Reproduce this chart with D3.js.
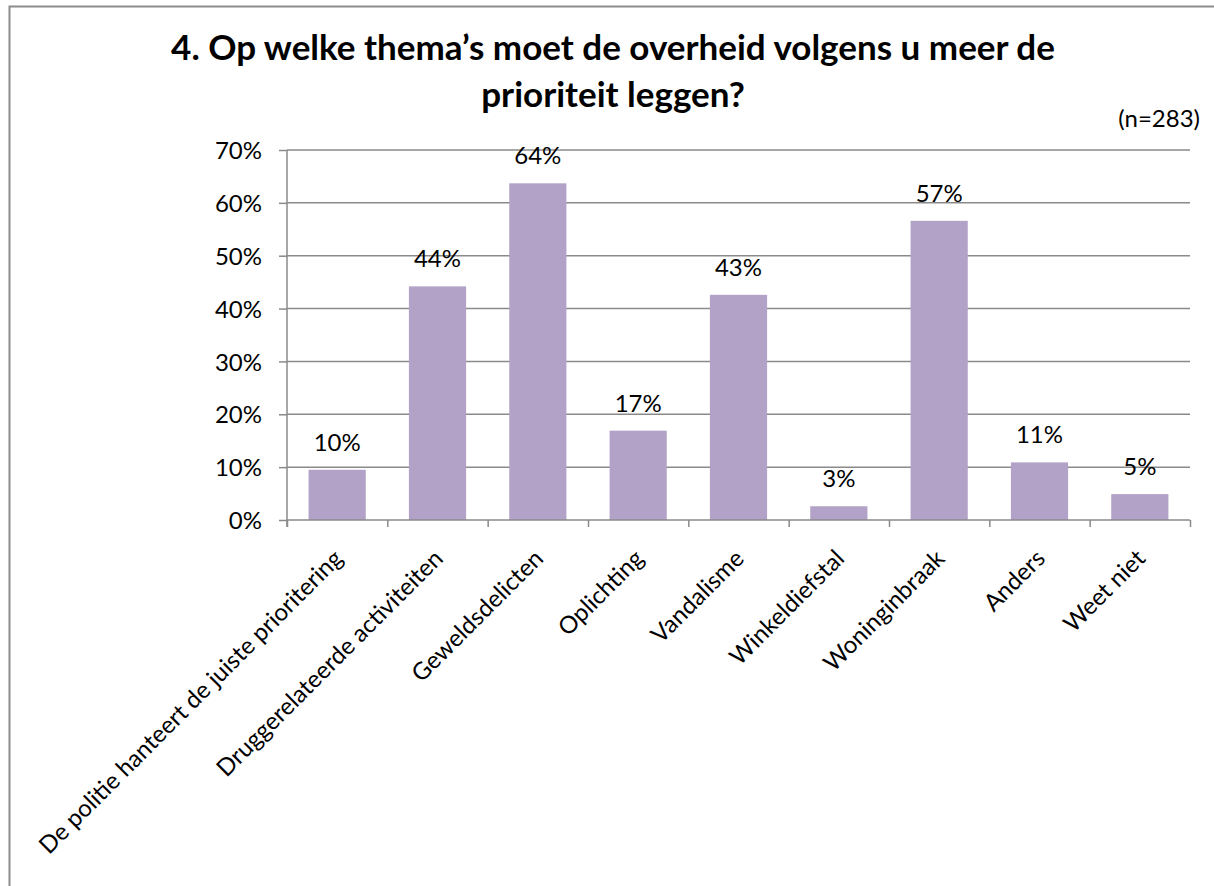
<!DOCTYPE html>
<html>
<head>
<meta charset="utf-8">
<script src="https://cdn.jsdelivr.net/npm/d3@7"></script>
<style>
  body { margin: 0; background: #fff; }
  svg text { font-family: Lato, "Open Sans", sans-serif; fill: #000; }
</style>
</head>
<body>
<svg id="chart" width="1214" height="886"></svg>
<script>
const categories = [
  "De politie hanteert de juiste prioritering",
  "Druggerelateerde activiteiten",
  "Geweldsdelicten",
  "Oplichting",
  "Vandalisme",
  "Winkeldiefstal",
  "Woninginbraak",
  "Anders",
  "Weet niet"
];
const values = [0.095, 0.442, 0.637, 0.169, 0.426, 0.026, 0.566, 0.109, 0.049];
const yTicks = [0, 0.1, 0.2, 0.3, 0.4, 0.5, 0.6, 0.7];
const titleLines = ["4. Op welke thema’s moet de overheid volgens u meer de", "prioriteit leggen?"];
const note = "(n=283)";

const svg = d3.select("#chart");

// chart frame runs past the right and bottom edge of the picture
svg.append("rect").attr("x", 9.5).attr("y", 6.5).attr("width", 1230).attr("height", 900)
  .attr("fill", "#fff").attr("stroke", "#8c8c8c").attr("stroke-width", 2);

const plotL = 287, plotR = 1190, plotT = 150, plotB = 520;
const x = d3.scaleBand().domain(categories).range([plotL, plotR]).paddingInner(0.43).paddingOuter(0.215);
const y = d3.scaleLinear().domain([0, 0.7]).range([plotB, plotT]);
const xb = d3.scaleLinear().domain([0, categories.length]).range([plotL, plotR]);

// gridlines
svg.append("g").selectAll("line").data(yTicks.slice(1)).join("line")
  .attr("x1", plotL).attr("x2", plotR)
  .attr("y1", d => y(d)).attr("y2", d => y(d))
  .attr("stroke", "#8a8a8a").attr("stroke-width", 1.5);

// bars
svg.append("g").selectAll("rect").data(values).join("rect")
  .attr("x", (d, i) => x(categories[i]))
  .attr("width", x.bandwidth())
  .attr("y", d => y(d))
  .attr("height", d => y(0) - y(d))
  .attr("fill", "#b3a2c7");

// y axis
const yAxis = svg.append("g").attr("transform", `translate(${plotL},0)`)
  .call(d3.axisLeft(y).tickValues(yTicks).tickSize(8).tickPadding(17).tickFormat(d3.format(".0%")));
yAxis.select(".domain").attr("stroke", "#8a8a8a").attr("stroke-width", 1.5).attr("d", `M0,${plotT}V${plotB + 7}`);
yAxis.selectAll(".tick line").attr("stroke", "#8a8a8a").attr("stroke-width", 1.5);
yAxis.selectAll(".tick text").attr("font-size", 24).attr("font-family", "Lato").attr("dy", "0.36em");

// x axis (ticks between categories)
const xAxis = svg.append("g").attr("transform", `translate(0,${plotB})`)
  .call(d3.axisBottom(xb).tickValues(d3.range(categories.length + 1)).tickSize(7).tickFormat(""));
xAxis.select(".domain").attr("stroke", "#8a8a8a").attr("stroke-width", 1.5).attr("d", `M${plotL},0H${plotR}`);
xAxis.selectAll(".tick line").attr("stroke", "#8a8a8a").attr("stroke-width", 1.5);

// category labels
svg.append("g").selectAll("text").data(categories).join("text")
  .attr("transform", d => `translate(${x(d) + x.bandwidth() / 2 + 7},${plotB + 40}) rotate(-45)`)
  .attr("text-anchor", "end")
  .attr("font-size", 24)
  .text(d => d);

// value labels
svg.append("g").selectAll("text").data(values).join("text")
  .attr("x", (d, i) => x(categories[i]) + x.bandwidth() / 2)
  .attr("y", d => y(d) - 19)
  .attr("text-anchor", "middle")
  .attr("font-size", 24)
  .text(d => d3.format(".0%")(d));

// title
svg.append("g").selectAll("text").data(titleLines).join("text")
  .attr("x", 613).attr("y", (d, i) => 60 + i * 47)
  .attr("text-anchor", "middle")
  .attr("font-size", 35).attr("font-weight", "bold")
  .text(d => d);

svg.append("text").attr("x", 1200).attr("y", 127).attr("text-anchor", "end")
  .attr("font-size", 24).text(note);
</script>
</body>
</html>
